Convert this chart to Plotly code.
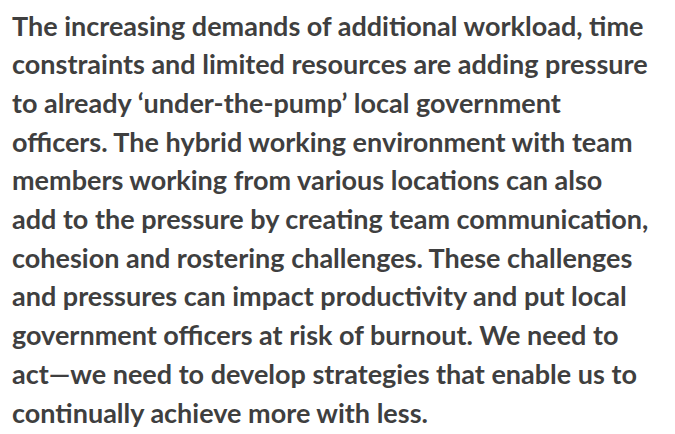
import plotly.graph_objects as go

lines = [
    "The increasing demands of additional workload, time",
    "constraints and limited resources are adding pressure",
    "to already \u2018under-the-pump\u2019 local government",
    "officers. The hybrid working environment with team",
    "members working from various locations can also",
    "add to the pressure by creating team communication,",
    "cohesion and rostering challenges. These challenges",
    "and pressures can impact productivity and put local",
    "government officers at risk of burnout. We need to",
    "act\u2014we need to develop strategies that enable us to",
    "continually achieve more with less.",
]

W, H = 675, 434
LEFT = 3
FIRST_CENTER = 17
SPACING = 38.7

fig = go.Figure()
for i, t in enumerate(lines):
    yc = FIRST_CENTER + i * SPACING
    fig.add_annotation(
        text=t, xref="paper", yref="paper",
        x=LEFT / W, y=1 - yc / H,
        xanchor="left", yanchor="middle", showarrow=False, borderpad=0,
        font=dict(family="Lato", size=27, color="#3f3f3f", weight="bold"),
    )

fig.update_layout(
    width=W, height=H, margin=dict(l=0, r=0, t=0, b=0),
    paper_bgcolor="white", plot_bgcolor="white",
    xaxis=dict(visible=False), yaxis=dict(visible=False),
)
fig.write_html("out.html")
